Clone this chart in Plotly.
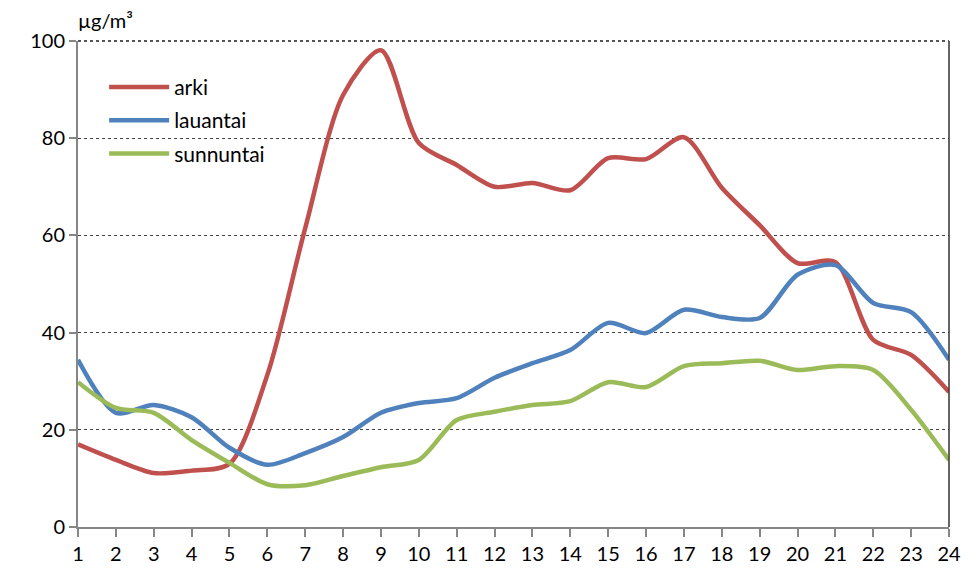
import plotly.graph_objects as go

# Hourly mean concentrations (µg/m³) by day type
hours = list(range(1, 25))
arki = [17.0, 13.8, 11.1, 11.6, 13.0, 31.3, 61.5, 88.9, 98.1, 79.0, 74.5, 70.0,
        70.8, 69.3, 75.9, 75.7, 80.2, 69.8, 62.1, 54.3, 54.5, 38.5, 35.4, 27.8]
lauantai = [34.4, 23.5, 25.1, 22.6, 16.3, 12.8, 15.2, 18.5, 23.5, 25.5, 26.5, 30.7,
            33.7, 36.4, 42.0, 39.9, 44.7, 43.2, 43.0, 51.9, 53.9, 46.1, 44.2, 34.4]
sunnuntai = [29.8, 24.5, 23.5, 17.9, 13.2, 8.8, 8.6, 10.5, 12.3, 13.8, 22.0, 23.7,
             25.1, 25.9, 29.8, 28.8, 33.1, 33.7, 34.2, 32.3, 33.1, 32.3, 24.1, 13.8]

series = [("arki", arki, "#C0504D"),
          ("lauantai", lauantai, "#4F81BD"),
          ("sunnuntai", sunnuntai, "#9BBB59")]

y_ticks = [0, 20, 40, 60, 80, 100]
unit_label = "µg/m³"

FONT = "Lato, 'Open Sans', sans-serif"

fig = go.Figure()
for name, vals, color in series:
    fig.add_trace(go.Scatter(
        x=hours, y=vals, name=name, mode="lines", legendgroup=name,
        line=dict(color=color, width=4.5, shape="spline", smoothing=0.8),
    ))

fig.update_layout(
    width=980, height=571,
    margin=dict(l=78, r=31, t=41, b=44),
    paper_bgcolor="white", plot_bgcolor="white",
    font=dict(family=FONT, color="black", size=20),
    showlegend=True,
    legend=dict(
        x=0.03, y=0.947, xanchor="left", yanchor="top",
        bgcolor="rgba(0,0,0,0)", borderwidth=0,
        font=dict(size=21), itemwidth=60, tracegroupgap=3,
    ),
    xaxis=dict(
        range=[1, 24], tickmode="array", tickvals=hours,
        ticktext=[str(h) for h in hours], automargin=False,
        showline=True, linecolor="#868686", linewidth=2,
        ticks="outside", ticklen=8, tickcolor="#868686", tickwidth=2,
        showgrid=False, zeroline=False, tickfont=dict(size=20),
    ),
    yaxis=dict(
        range=[0, 100], tickmode="array", tickvals=y_ticks, automargin=False,
        showline=True, linecolor="#868686", linewidth=2,
        ticks="outside", ticklen=7, tickcolor="#868686", tickwidth=2,
        showgrid=True, gridcolor="#444444", gridwidth=1, griddash="dot",
        zeroline=False, tickfont=dict(size=20),
    ),
    shapes=[
        # white panel behind the legend
        dict(type="rect", xref="paper", yref="paper",
             x0=0.007, x1=0.256, y0=0.72, y1=0.97,
             fillcolor="white", line=dict(width=0), layer="below"),
        # right frame line
        dict(type="line", xref="paper", yref="paper",
             x0=1, x1=1, y0=0, y1=1, line=dict(color="#333333", width=1.5)),
        # top frame line
        dict(type="line", xref="paper", yref="paper",
             x0=0, x1=1, y0=1, y1=1,
             line=dict(color="#555555", width=2, dash="dot")),
    ],
    annotations=[
        dict(text=unit_label, xref="paper", yref="paper",
             x=0, y=1.0, xanchor="left", yanchor="bottom", yshift=7, xshift=-2,
             showarrow=False, font=dict(size=20)),
    ],
)

fig.write_html("out.html")
